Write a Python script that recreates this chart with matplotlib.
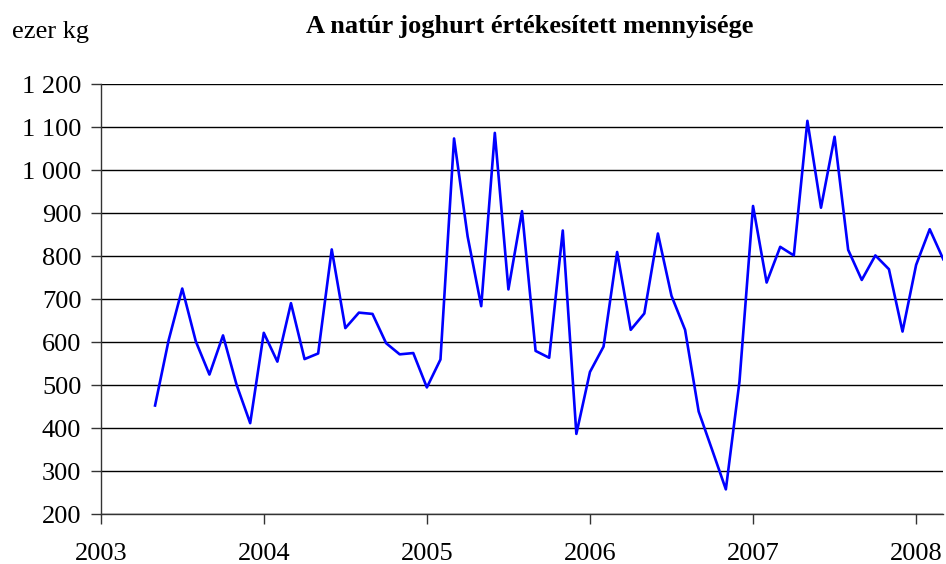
import numpy as np
import matplotlib
matplotlib.use("Agg")
import matplotlib.pyplot as plt
from matplotlib.ticker import FuncFormatter

# monthly data, May 2003 .. Mar 2008 (ezer kg)
start_year = 2003
start_month = 4  # 0 = January
values = [453, 605, 725, 602, 525, 616, 501, 412,
          622, 555, 691, 561, 574, 816, 633, 669, 666, 598, 572, 575,
          495, 560, 1074, 846, 684, 1087, 723, 905, 580, 564, 860, 387,
          531, 590, 810, 629, 667, 853, 708, 629, 439, 349, 258, 508,
          917, 739, 822, 802, 1115, 913, 1078, 815, 745, 802, 770, 625,
          780, 863, 793]
years = [2003, 2004, 2005, 2006, 2007, 2008]
y_ticks = [200, 300, 400, 500, 600, 700, 800, 900, 1000, 1100, 1200]

title = "A natúr joghurt értékesített mennyisége"
unit = "ezer kg"

x = start_year + (start_month + np.arange(len(values))) / 12.0

plt.rcParams['font.family'] = ['Liberation Serif', 'DejaVu Serif']

fig = plt.figure(figsize=(9.46, 5.64), dpi=100)
ax = fig.add_axes([100.7 / 946, 1 - 514.3 / 564, (943.3 - 100.7) / 946, (514.3 - 84.3) / 564])

ax.plot(x, values, color='#0000ff', linewidth=1.9, zorder=3)

ax.set_xlim(2003, x[-1])
ax.set_ylim(200, 1200)
ax.set_xticks(years)
ax.set_yticks(y_ticks)
ax.yaxis.set_major_formatter(FuncFormatter(lambda v, p: f"{int(v):,}".replace(",", " ")))
ax.grid(axis='y', color='black', linewidth=1.0)
ax.set_axisbelow(True)

for s in ['top', 'right']:
    ax.spines[s].set_visible(False)
for s in ['left', 'bottom']:
    ax.spines[s].set_linewidth(1.0)
    ax.spines[s].set_color('#333333')

ax.tick_params(axis='y', length=7, width=1, labelsize=19, pad=7, color='#333333')
ax.tick_params(axis='x', length=7, width=1, labelsize=19, pad=14, color='#333333')

fig.text(530 / 946, 1 - 26 / 564, title, ha='center', va='center', fontsize=19, fontweight='bold')
fig.text(12 / 946, 1 - 32 / 564, unit, ha='left', va='center', fontsize=19)

fig.savefig("out.png", dpi=100)
